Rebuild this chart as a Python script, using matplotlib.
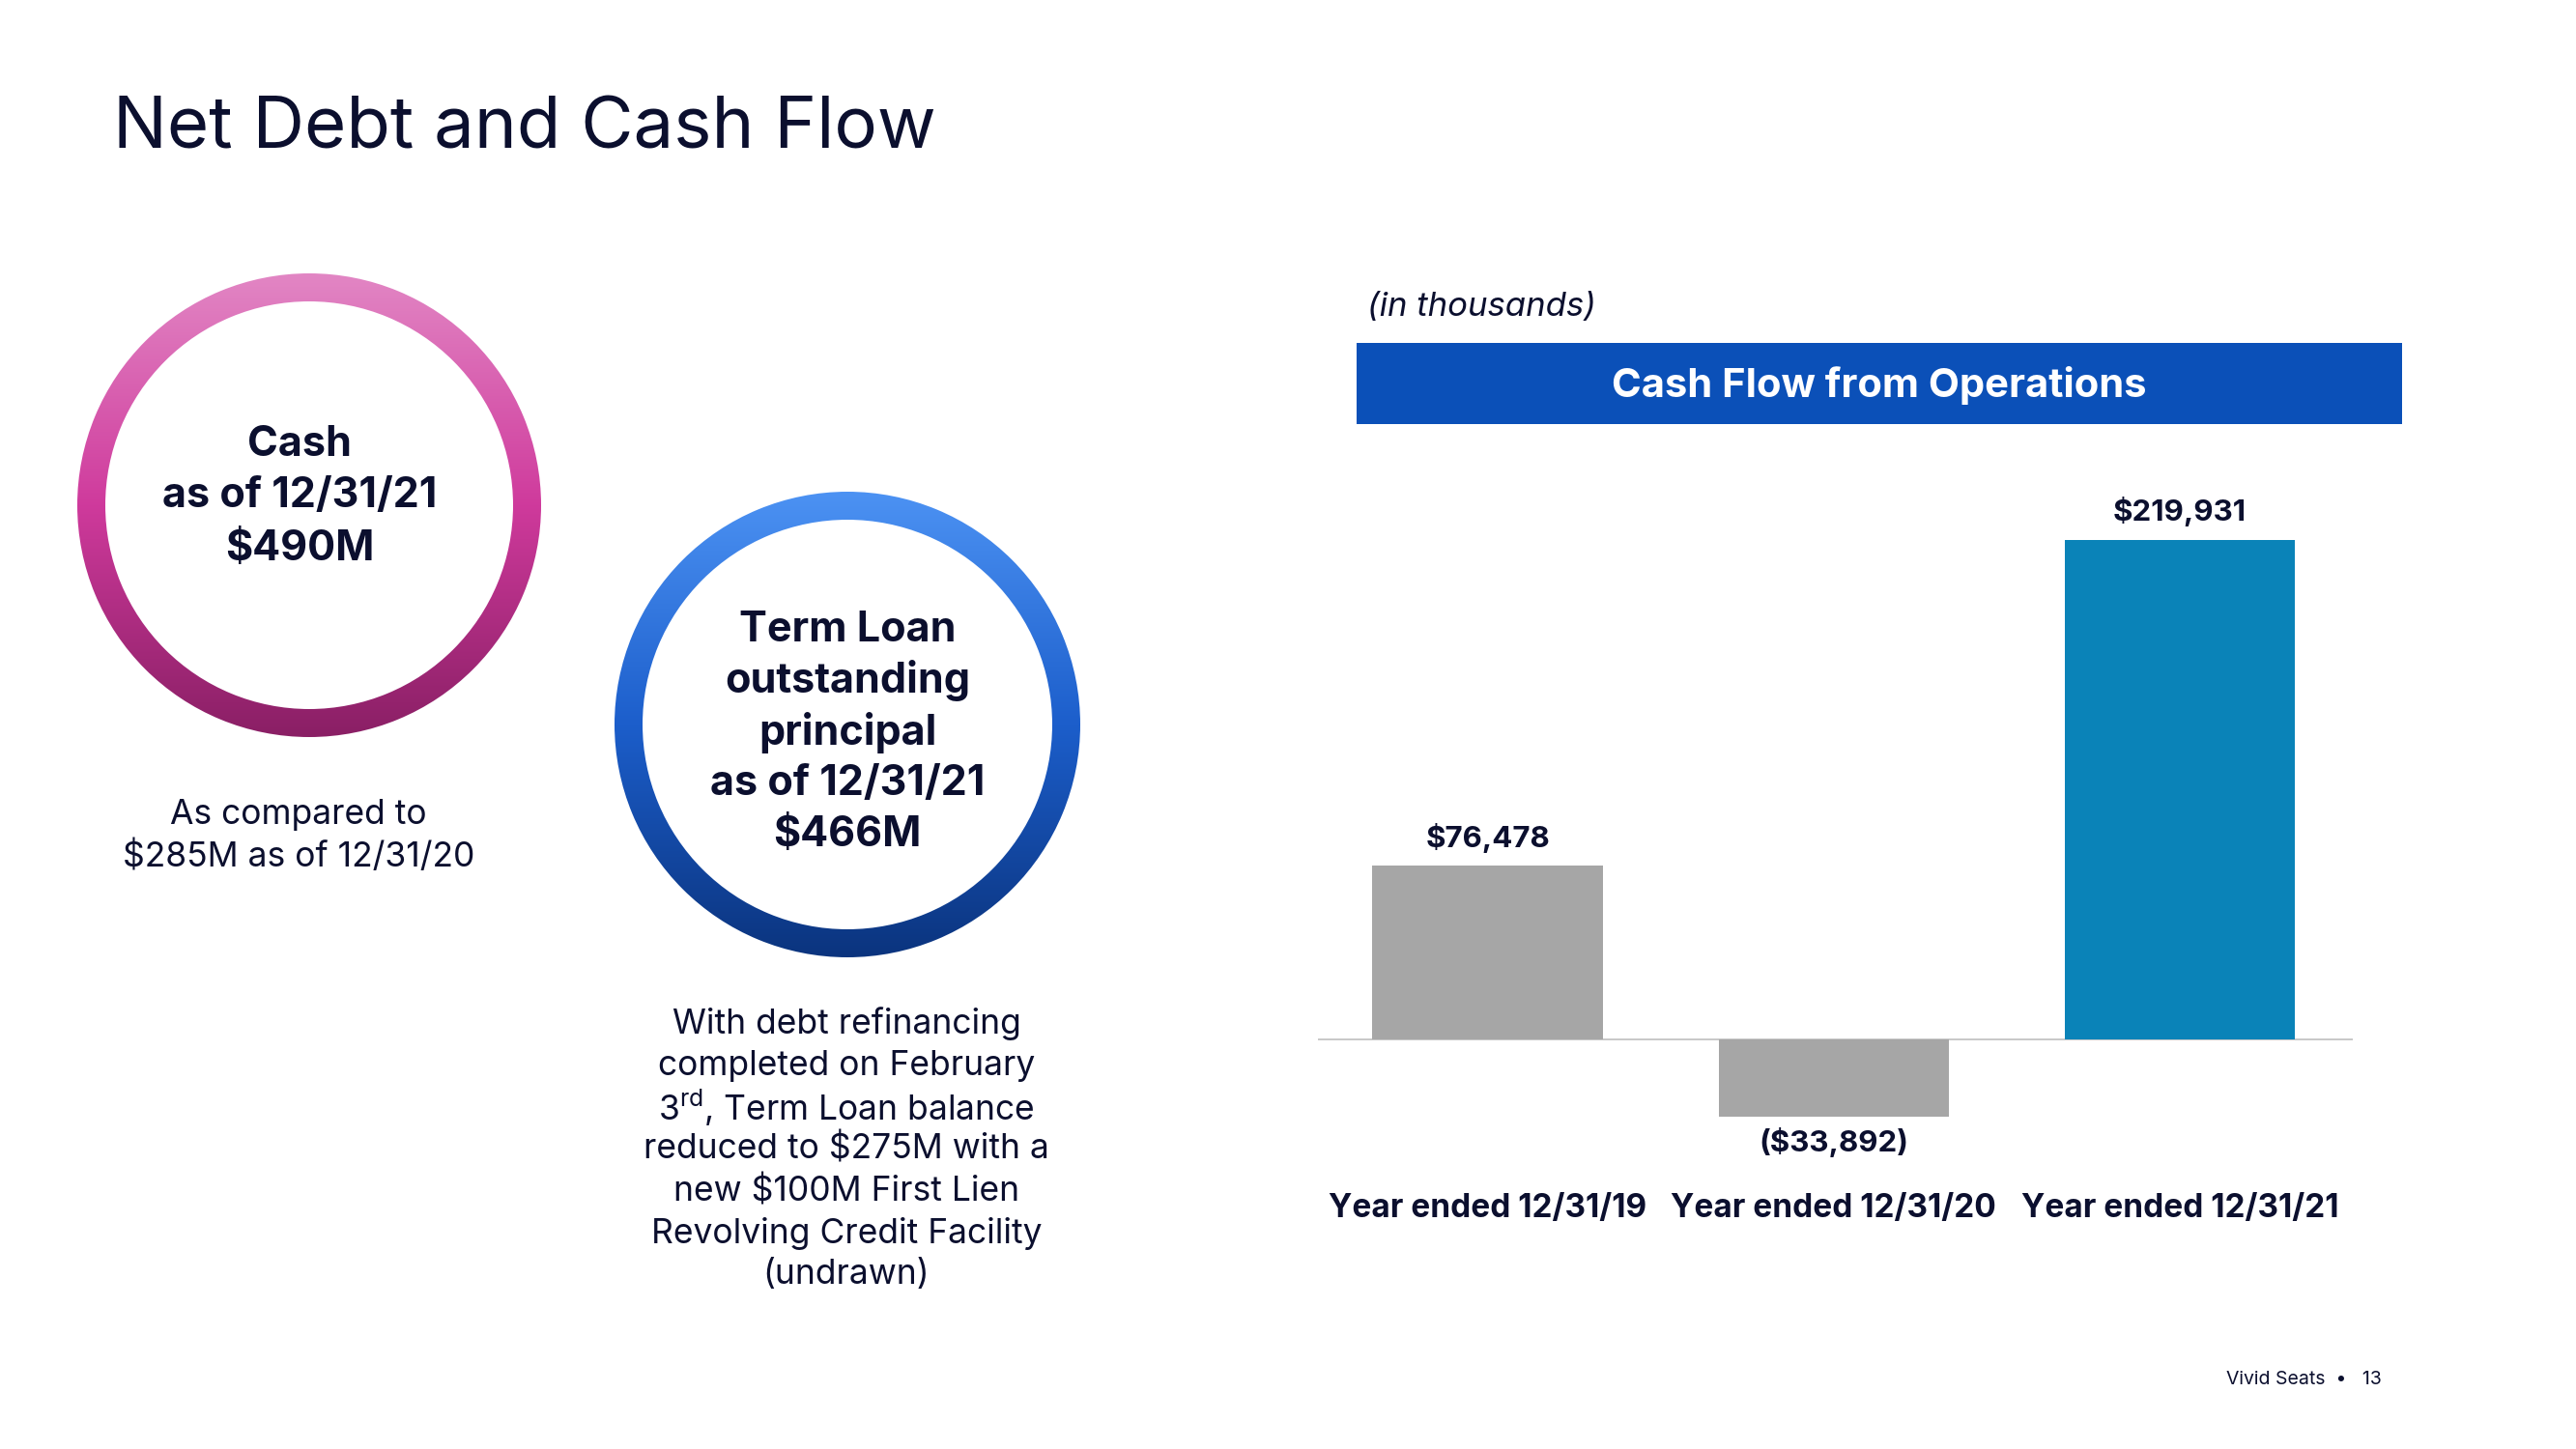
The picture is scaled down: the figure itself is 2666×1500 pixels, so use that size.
import numpy as np
import matplotlib
matplotlib.use("Agg")
import matplotlib.pyplot as plt
from matplotlib.patches import Wedge, Rectangle
from matplotlib.colors import LinearSegmentedColormap

# ---------------- data ----------------
categories = ["Year ended 12/31/19", "Year ended 12/31/20", "Year ended 12/31/21"]
cash_flow = [76478, -33892, 219931]
value_labels = ["$76,478", "($33,892)", "$219,931"]
bar_colors = ["#A6A6A6", "#A6A6A6", "#0A83B8"]

title = "Net Debt and Cash Flow"
cash_lines = ["Cash", "as of 12/31/21", "$490M"]
cash_note = ["As compared to", "$285M as of 12/31/20"]
loan_lines = ["Term Loan", "outstanding", "principal", "as of 12/31/21", "$466M"]
loan_note = ["With debt refinancing", "completed on February",
             "3$^{\\mathrm{rd}}$, Term Loan balance", "reduced to $275M with a",
             "new $100M First Lien", "Revolving Credit Facility", "(undrawn)"]
units = "(in thousands)"
chart_title = "Cash Flow from Operations"
footer = "Vivid Seats  \u2022   13"

FONT = "Inter"
plt.rcParams['font.family'] = [FONT, 'DejaVu Sans']
plt.rcParams['mathtext.fontset'] = 'custom'
plt.rcParams['mathtext.rm'] = FONT
plt.rcParams['mathtext.it'] = FONT + ':italic'
plt.rcParams['mathtext.bf'] = FONT + ':bold'
NAVY = "#0B0F2E"

W, H = 2666, 1500
fig = plt.figure(figsize=(W / 100, H / 100), dpi=100)
fig.patch.set_facecolor("white")

bg = fig.add_axes([0, 0, 1, 1])
bg.set_xlim(0, W)
bg.set_ylim(H, 0)
bg.axis("off")

# title
bg.text(117, 134, title, fontsize=53.5, color=NAVY, va="center", ha="left")


def ring(cx, cy, r, width, colors):
    cmap = LinearSegmentedColormap.from_list("g", colors)
    grad = np.linspace(0, 1, 256).reshape(-1, 1)
    im = bg.imshow(grad, cmap=cmap, extent=[cx - r, cx + r, cy + r, cy - r],
                   aspect="auto", zorder=2, interpolation="bilinear")
    w = Wedge((cx, cy), r, 0, 360, width=width, transform=bg.transData,
              facecolor="none", edgecolor="none")
    bg.add_patch(w)
    im.set_clip_path(w)


ring(320, 523, 240, 29, ["#E286C4", "#CF3A9C", "#8A1F65"])
ring(877, 750, 241, 29, ["#4C92F3", "#1C5ECB", "#0B347E"])
bg.set_xlim(0, W)
bg.set_ylim(H, 0)

for i, t in enumerate(cash_lines):
    bg.text(310, 460 + i * 54, t, fontsize=31, fontweight="bold", color=NAVY,
            ha="center", va="center", zorder=3)
for i, t in enumerate(cash_note):
    bg.text(309, 843 + i * 44, t, fontsize=25.5, color=NAVY, ha="center", va="center")
for i, t in enumerate(loan_lines):
    bg.text(877, 652 + i * 53, t, fontsize=31, fontweight="bold", color=NAVY,
            ha="center", va="center", zorder=3)
for i, t in enumerate(loan_note):
    bg.text(876, 1060 + i * 43.3, t, fontsize=25.5, color=NAVY, ha="center", va="center")

bg.text(1415, 318, units, fontsize=25, style="italic", color=NAVY, va="center", ha="left")
bg.add_patch(Rectangle((1404, 355), 1082, 84, facecolor="#0B50B8", edgecolor="none"))
bg.text(1945, 399, chart_title, fontsize=30, fontweight="bold", color="white",
        ha="center", va="center")
bg.text(2304, 1428, footer, fontsize=14, color=NAVY, ha="left", va="center")

# ---------------- bar chart ----------------
ax = fig.add_axes([1364 / W, (H - 1217) / H, 1071 / W, 705 / H])
ax.set_xlim(-0.49, 2.5)
ax.set_ylim(-60000, 240000)
x = np.arange(len(categories))
bars = ax.bar(x, cash_flow, width=0.665, color=bar_colors, zorder=2)
ax.axhline(0, color="#BFBFBF", lw=1.2, zorder=1)
for spine in ax.spines.values():
    spine.set_visible(False)
ax.set_yticks([])
ax.set_xticks(x)
ax.set_xticklabels(categories, fontsize=24, fontweight="bold", color=NAVY)
ax.tick_params(axis="x", length=0, pad=13)
ax.patch.set_alpha(0)
for xi, v, lab in zip(x, cash_flow, value_labels):
    off = 21 if v >= 0 else -19
    ax.annotate(lab, (xi, v), xytext=(0, off), textcoords="offset points",
                ha="center", va="center", fontsize=22.5, fontweight="bold", color=NAVY)

fig.savefig("out.png", dpi=100, facecolor="white")
